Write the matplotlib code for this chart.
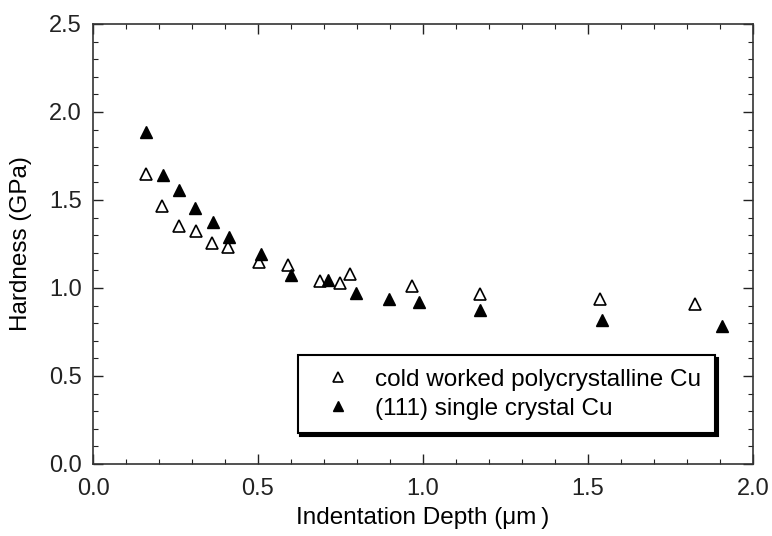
import matplotlib
matplotlib.use("Agg")
import matplotlib.pyplot as plt
from matplotlib.ticker import MultipleLocator, FormatStrFormatter

plt.rcParams['font.family'] = ['Liberation Sans', 'DejaVu Sans']

# cold worked polycrystalline Cu (open triangles)
poly_depth = [0.161, 0.210, 0.262, 0.311, 0.362, 0.409, 0.503, 0.590, 0.688,
              0.748, 0.779, 0.968, 1.173, 1.536, 1.824]
poly_hard = [1.648, 1.466, 1.354, 1.326, 1.258, 1.235, 1.150, 1.131, 1.040,
             1.027, 1.078, 1.013, 0.964, 0.938, 0.909]

# (111) single crystal Cu (filled triangles)
single_depth = [0.160, 0.211, 0.260, 0.310, 0.363, 0.411, 0.509, 0.600, 0.711,
                0.797, 0.898, 0.988, 1.173, 1.541, 1.905]
single_hard = [1.885, 1.642, 1.557, 1.456, 1.377, 1.292, 1.191, 1.074, 1.045,
               0.973, 0.939, 0.922, 0.875, 0.818, 0.784]

label_poly = "cold worked polycrystalline Cu"
label_single = "(111) single crystal Cu"

fig = plt.figure(figsize=(7.72, 5.36), dpi=100)
ax = fig.add_axes([93/772, 1-464/536, 660/772, 440/536])

ax.plot(poly_depth, poly_hard, linestyle='none', marker='^', markersize=8.5,
        markerfacecolor='white', markeredgecolor='black', markeredgewidth=1.2,
        label=label_poly)
ax.plot(single_depth, single_hard, linestyle='none', marker='^', markersize=8.5,
        markerfacecolor='black', markeredgecolor='black', markeredgewidth=1.0,
        label=label_single)

ax.set_xlim(0, 2.0)
ax.set_ylim(0, 2.5)
ax.xaxis.set_major_locator(MultipleLocator(0.5))
ax.xaxis.set_minor_locator(MultipleLocator(0.1))
ax.yaxis.set_major_locator(MultipleLocator(0.5))
ax.yaxis.set_minor_locator(MultipleLocator(0.1))
ax.xaxis.set_major_formatter(FormatStrFormatter('%.1f'))
ax.yaxis.set_major_formatter(FormatStrFormatter('%.1f'))
ax.tick_params(which='both', direction='in', top=True, right=True, colors='#222222')
ax.tick_params(which='major', length=7, width=1.0, labelsize=17)
ax.tick_params(axis='x', which='major', pad=10)
ax.tick_params(axis='y', which='major', pad=8)
ax.tick_params(which='minor', length=3.5, width=0.8)
for s in ax.spines.values():
    s.set_linewidth(1.2)
    s.set_color('#333333')

ax.set_xlabel("Indentation Depth (\u03bcm\u2009)", fontsize=17.5, labelpad=5)
ax.set_ylabel("Hardness (GPa)", fontsize=17.5, labelpad=12)

leg = ax.legend(loc='lower left', bbox_to_anchor=(0.31, 0.07), borderaxespad=0,
                fontsize=17.5, frameon=True, fancybox=False,
                shadow={'color': 'black', 'alpha': 1.0},
                handlelength=2.2, handletextpad=0.45, labelspacing=0.3,
                borderpad=0.55, markerscale=0.9)
leg.get_frame().set_edgecolor('black')
leg.get_frame().set_linewidth(1.5)

fig.savefig("out.png", dpi=100)
